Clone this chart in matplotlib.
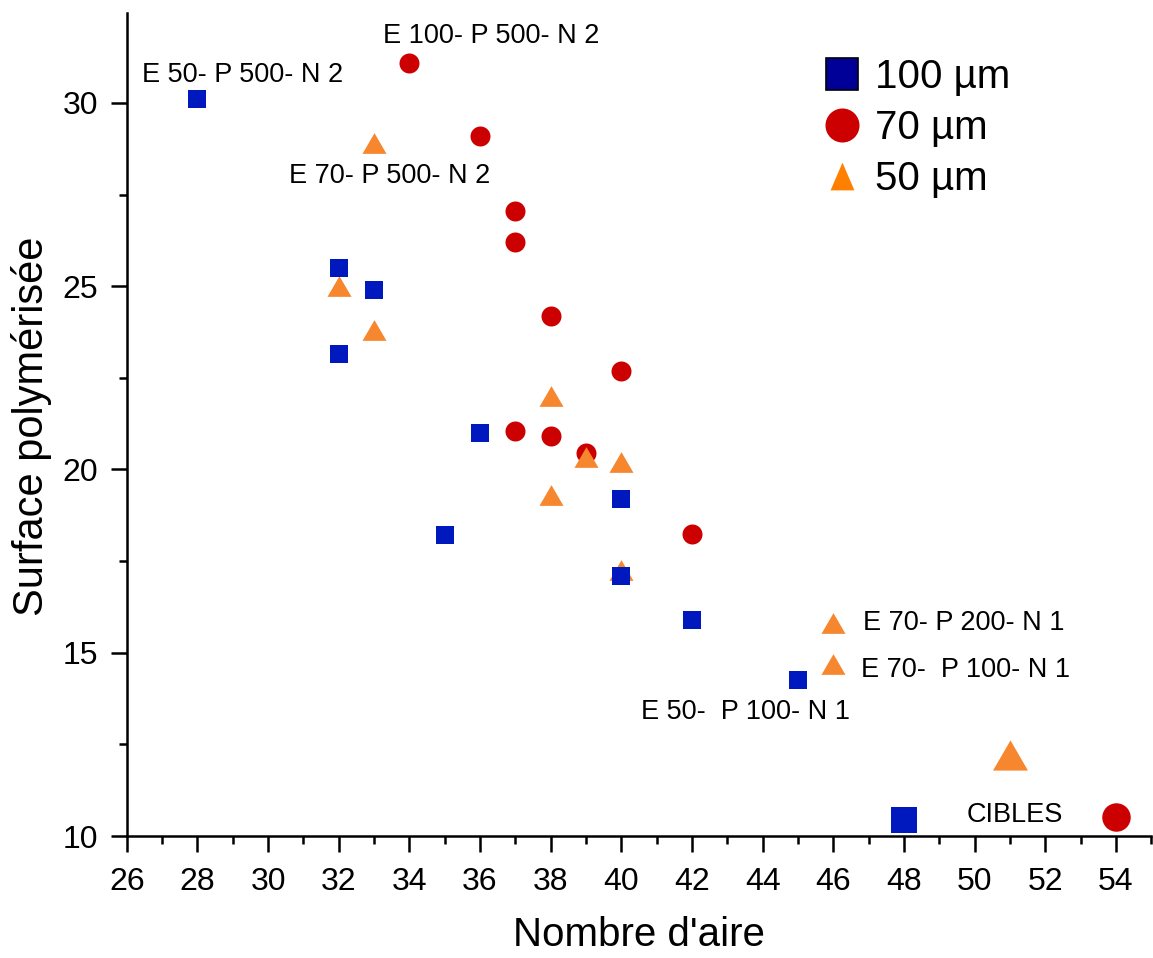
import matplotlib
matplotlib.use('Agg')
import matplotlib.pyplot as plt
from matplotlib.lines import Line2D
from matplotlib.ticker import MultipleLocator

plt.rcParams['font.family'] = ['Liberation Sans', 'DejaVu Sans']

# data
x_100 = [28, 32, 32, 33, 35, 36, 40, 40, 42, 45]
y_100 = [30.1, 25.5, 23.15, 24.9, 18.2, 21.0, 19.2, 17.1, 15.9, 14.25]

x_70 = [34, 36, 37, 37, 37, 38, 38, 39, 40, 42]
y_70 = [31.1, 29.1, 27.05, 26.2, 21.05, 24.2, 20.9, 20.45, 22.7, 18.25]

x_50 = [32, 33, 33, 38, 38, 39, 40, 40, 46, 46]
y_50 = [25.0, 28.9, 23.8, 22.0, 19.3, 20.35, 20.2, 17.25, 15.8, 14.7]

# targets ("CIBLES"), one per group
cible_x = [48, 54, 51]
cible_y = [10.45, 10.53, 12.2]

legend_labels = ['100 µm', '70 µm', '50 µm']

# annotations: text, x, y (baseline), ha
notes = [
    ('E 50- P 500- N 2', 26.42, 30.58, 'left'),
    ('E 100- P 500- N 2', 33.26, 31.63, 'left'),
    ('E 70- P 500- N 2', 36.28, 27.81, 'right'),
    ('E 70- P 200- N 1', 46.84, 15.62, 'left'),
    ('E 70-  P 100- N 1', 46.78, 14.35, 'left'),
    ('E 50-  P 100- N 1', 40.56, 13.18, 'left'),
    ('CIBLES', 49.78, 10.39, 'left'),
]

blue = '#0019BF'
red = '#CC0000'
orange = '#F7872E'

tri = [(-1.16, -1.0), (1.16, -1.0), (0.0, 1.0)]
tri_tall = [(-0.86, -1.0), (0.86, -1.0), (0.0, 1.0)]

fig = plt.figure(figsize=(11.53, 9.58), dpi=100)
ax = fig.add_axes([0.1099, 0.1273, 0.8886, 0.8594])

ax.plot(x_70, y_70, 'o', color=red, ms=14.4, mew=0, zorder=3)
ax.plot(x_50, y_50, ls='none', marker=tri, color=orange, ms=17.3, mew=0, zorder=4)
ax.plot(x_100, y_100, 's', color=blue, ms=13, mew=0, zorder=5)

ax.plot(cible_x[0], cible_y[0], 's', color=blue, ms=18.7, mew=0, zorder=5)
ax.plot(cible_x[1], cible_y[1], 'o', color=red, ms=20.5, mew=0, zorder=5)
ax.plot(cible_x[2], cible_y[2], ls='none', marker=tri, color=orange, ms=25.2, mew=0, zorder=5)

for txt, tx, ty, ha in notes:
    ax.text(tx, ty, txt, fontsize=19.5, ha=ha, va='baseline')

ax.set_xlim(26, 55)
ax.set_ylim(10, 32.46)
ax.xaxis.set_major_locator(MultipleLocator(2))
ax.xaxis.set_minor_locator(MultipleLocator(1))
ax.yaxis.set_major_locator(MultipleLocator(5))
ax.yaxis.set_minor_locator(MultipleLocator(2.5))

for s in ['top', 'right']:
    ax.spines[s].set_visible(False)
for s in ['left', 'bottom']:
    ax.spines[s].set_linewidth(1.8)

ax.tick_params(which='major', direction='out', length=11.5, width=1.8, labelsize=23)
ax.tick_params(axis='x', which='major', pad=11)
ax.tick_params(axis='y', which='major', pad=9)
ax.tick_params(which='minor', direction='out', length=5.8, width=1.8)

ax.set_xlabel("Nombre d'aire", fontsize=29)
ax.set_ylabel('Surface polymérisée', fontsize=30)
ax.xaxis.set_label_coords(0.5, -0.0975)
ax.yaxis.set_label_coords(-0.073, 0.498)

handles = [
    Line2D([], [], ls='none', marker='s', ms=23, mfc='#000099', mec='black', mew=1.2),
    Line2D([], [], ls='none', marker='o', ms=24.5, mfc=red, mew=0),
    Line2D([], [], ls='none', marker=tri_tall, ms=20, mfc='#FF8000', mew=0),
]
ax.legend(handles, legend_labels, loc='upper left', bbox_to_anchor=(0.713, 0.9395),
          bbox_transform=fig.transFigure, frameon=False, fontsize=29,
          handlelength=1.0, handletextpad=0.32, labelspacing=0.32,
          borderpad=0, borderaxespad=0)

fig.savefig('out.png', dpi=100)
